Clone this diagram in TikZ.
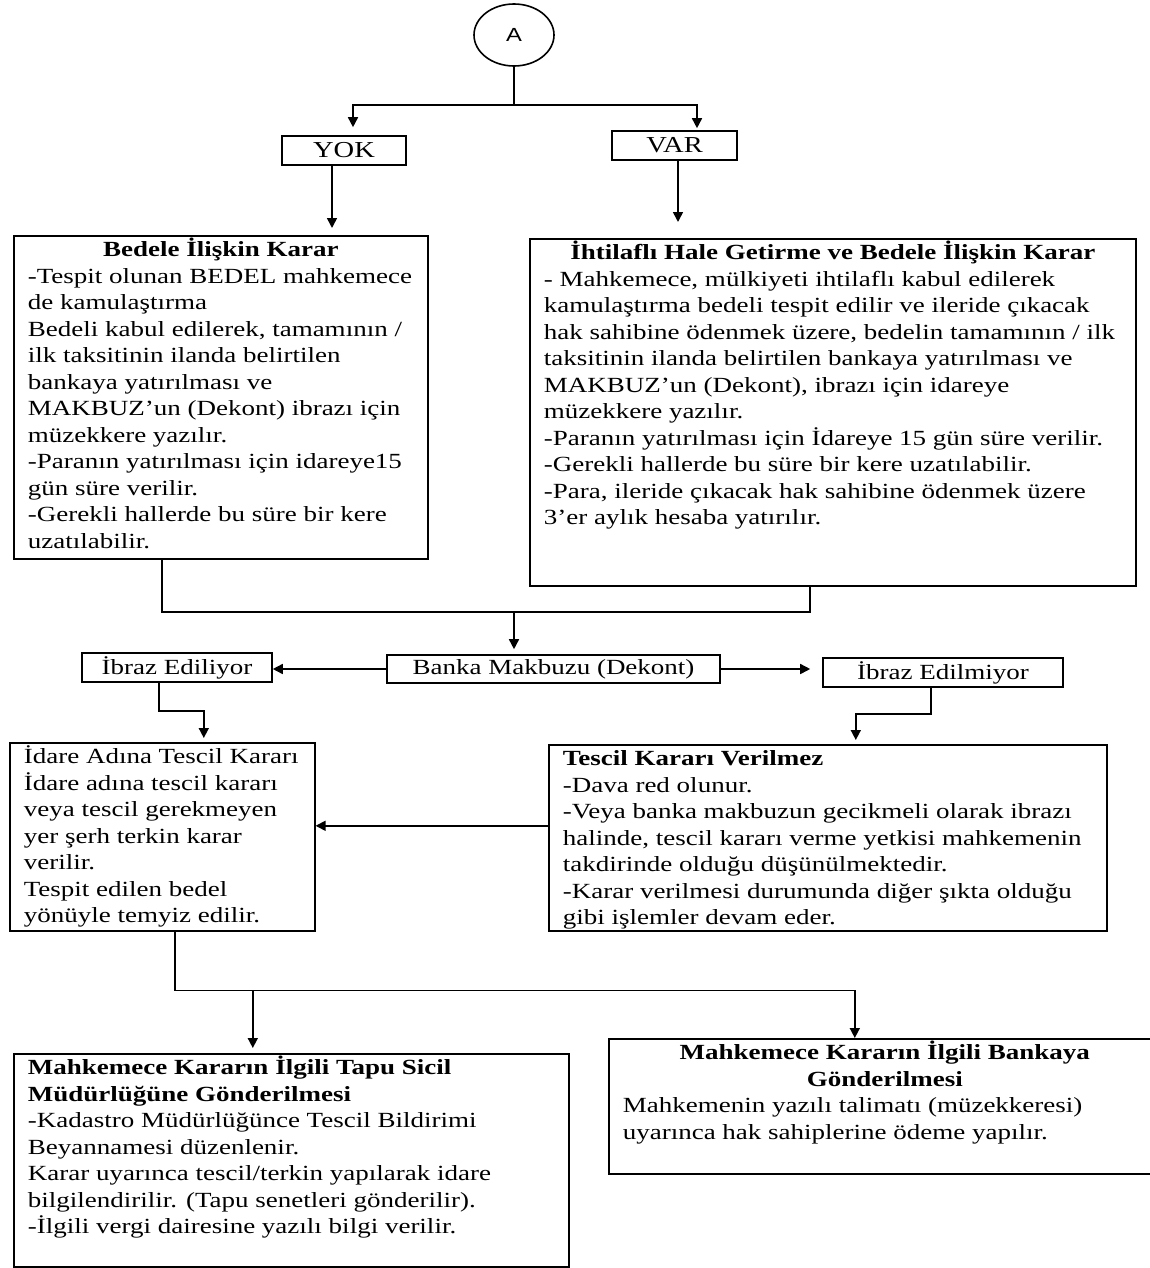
\documentclass[tikz,border=0pt]{standalone}
\usepackage{fontspec}
\setmainfont{Liberation Serif}[FakeStretch=1.25]
\newfontfamily\sansA{Liberation Sans}[FakeStretch=1.25]
\usepackage{tikz}
\usetikzlibrary{arrows.meta,shapes.geometric}

\newcommand{\flowtext}[3]{\parbox[t][#2][t]{#1}{\fontsize{10.8}{13.25}\selectfont\leftskip=7pt\rightskip=0pt plus 1fil\parindent=0pt\rule{0pt}{10pt}#3}}

\begin{document}
\begin{tikzpicture}[x=0.5pt, y=-0.5pt, line width=0.8pt,
  textbox/.style={draw, anchor=north west, inner xsep=0pt, inner ysep=0.5pt},
  tagbox/.style={draw, inner sep=0pt, font=\fontsize{10.8}{12}\selectfont},
  arr/.style={-{Triangle[length=5pt,width=5pt]}}]
\useasboundingbox (0,0) rectangle (1150,1268);
\clip (0,0) rectangle (1150,1268);

\node[ellipse, draw, minimum width=40pt, minimum height=31pt, inner sep=0pt, font=\sansA\fontsize{9.5}{10}\selectfont] (a) at (514,35) {A};
\node[tagbox, minimum width=62pt, minimum height=14.5pt, font=\fontsize{11.4}{13}\selectfont] (yok) at (344,150.5) {YOK};
\node[tagbox, minimum width=62.5pt, minimum height=14.5pt, font=\fontsize{11.4}{13}\selectfont] (var) at (674.5,145.5) {VAR};

\node[textbox] (bedele) at (13,235) {\flowtext{207pt}{160.5pt}{%
{\centering\bfseries Bedele İlişkin Karar\par}
-Tespit olunan BEDEL mahkemece\\
de kamulaştırma\\
Bedeli kabul edilerek, tamamının /\\
ilk taksitinin ilanda belirtilen\\
bankaya yatırılması ve\\
MAKBUZ’un (Dekont) ibrazı için\\
müzekkere yazılır.\\
-Paranın yatırılması için idareye15\\
gün süre verilir.\\
-Gerekli hallerde bu süre bir kere\\
uzatılabilir.}};

\node[textbox] (ihtilaf) at (529,238) {\flowtext{303pt}{172.5pt}{%
{\centering\bfseries İhtilaflı Hale Getirme ve Bedele İlişkin Karar\par}
- Mahkemece, mülkiyeti ihtilaflı kabul edilerek\\
kamulaştırma bedeli tespit edilir ve ileride çıkacak\\
hak sahibine ödenmek üzere, bedelin tamamının / ilk\\
taksitinin ilanda belirtilen bankaya yatırılması ve\\
MAKBUZ’un (Dekont), ibrazı için idareye\\
müzekkere yazılır.\\
-Paranın yatırılması için İdareye 15 gün süre verilir.\\
-Gerekli hallerde bu süre bir kere uzatılabilir.\\
-Para, ileride çıkacak hak sahibine ödenmek üzere\\
3’er aylık hesaba yatırılır.}};

\node[tagbox, minimum width=166.5pt, minimum height=14pt] (banka) at (553.5,669) {Banka Makbuzu (Dekont)};
\node[tagbox, minimum width=95pt, minimum height=14.5pt] (ediliyor) at (177,667.5) {İbraz Ediliyor};
\node[tagbox, minimum width=120pt, minimum height=14.5pt] (edilmiyor) at (943,672.5) {İbraz Edilmiyor};

\node[textbox] (idare) at (9,742) {\flowtext{152.5pt}{93pt}{%
İdare Adına Tescil Kararı\\
İdare adına tescil kararı\\
veya tescil gerekmeyen\\
yer şerh terkin karar\\
verilir.\\
Tespit edilen bedel\\
yönüyle temyiz edilir.}};

\node[textbox] (tescil) at (548,744) {\flowtext{279pt}{92pt}{%
{\bfseries Tescil Kararı Verilmez}\\
-Dava red olunur.\\
-Veya banka makbuzun gecikmeli olarak ibrazı\\
halinde, tescil kararı verme yetkisi mahkemenin\\
takdirinde olduğu düşünülmektedir.\\
-Karar verilmesi durumunda diğer şıkta olduğu\\
gibi işlemler devam eder.}};

\node[textbox] (tapu) at (13,1053) {\flowtext{277.5pt}{105.5pt}{%
{\bfseries Mahkemece Kararın İlgili Tapu Sicil\\
Müdürlüğüne Gönderilmesi}\\
-Kadastro Müdürlüğünce Tescil Bildirimi\\
Beyannamesi düzenlenir.\\
Karar uyarınca tescil/terkin yapılarak idare\\
bilgilendirilir. (Tapu senetleri gönderilir).\\
-İlgili vergi dairesine yazılı bilgi verilir.}};

\node[textbox] (bankaya) at (608,1038) {\flowtext{276pt}{66.5pt}{%
{\centering\bfseries Mahkemece Kararın İlgili Bankaya\\
Gönderilmesi\par}
Mahkemenin yazılı talimatı (müzekkeresi)\\
uyarınca hak sahiplerine ödeme yapılır.}};

\coordinate (fork1) at (514,105);
\coordinate (yokin) at ([xshift=4.5pt]yok.north);
\coordinate (varin) at ([xshift=11.25pt]var.north);
\coordinate (yokout) at ([xshift=-6pt]yok.south);
\coordinate (varout) at ([xshift=1.75pt]var.south);
\coordinate (merge) at (514,612);
\coordinate (bedout) at ([xshift=-29.5pt]bedele.south);
\coordinate (ihtout) at ([xshift=-11.5pt]ihtilaf.south);
\coordinate (edout) at ([xshift=-9pt]ediliyor.south);
\coordinate (idarein) at ([xshift=20.75pt]idare.north);
\coordinate (edmout) at ([xshift=-6pt]edilmiyor.south);
\coordinate (tescilin) at ([xshift=14pt]tescil.north);
\coordinate (tescilout) at ([yshift=6pt]tescil.west);
\coordinate (idareout) at ([xshift=6.25pt]idare.south);
\coordinate (tapuin) at ([xshift=-19.25pt]tapu.north);
\coordinate (bankayain) at ([xshift=-15pt]bankaya.north);

\draw (a.south) -- (fork1);
\draw[arr, shorten >=4pt] (fork1) -| (yokin);
\draw[arr, shorten >=1pt] (fork1) -| (varin);
\draw[arr, shorten >=3.5pt] (yokout) -- (yokout |- bedele.north);
\draw[arr, shorten >=8pt] (varout) -- (varout |- ihtilaf.north);

\draw (bedout) |- (merge) -| (ihtout);
\draw[arr, shorten >=2.5pt] (merge) -- (merge |- banka.north);
\draw[arr] (banka.west) -- (banka.west -| ediliyor.east);
\draw[arr, shorten >=6pt] (banka.east) -- (banka.east -| edilmiyor.west);

\draw[arr, shorten >=2pt] (edout) -- ++(0,28) -| (idarein);
\draw[arr, shorten >=2pt] (edmout) -- ++(0,26) -| (tescilin);
\draw[arr] (tescilout) -- (tescilout -| idare.east);

\draw[arr] (idareout) -- ++(0,59) coordinate (fork2) -| (bankayain);
\draw[arr, shorten >=2.5pt] (fork2 -| tapuin) -- (tapuin);
\end{tikzpicture}
\end{document}
